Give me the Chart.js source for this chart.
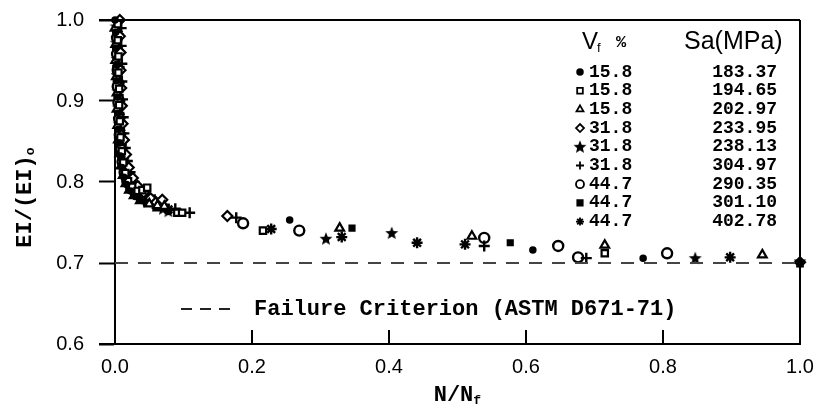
<!DOCTYPE html>
<html>
<head>
<meta charset="utf-8">
<script src="https://cdn.jsdelivr.net/npm/chart.js@4.4.1/dist/chart.umd.min.js"></script>
<style>
html,body{margin:0;padding:0;background:#fff;}
#wrap{width:815px;height:409px;position:relative;}
</style>
</head>
<body>
<div id="wrap"><canvas id="c" width="815" height="409"></canvas></div>
<script>
// ---- data ----
const vfLabels = ['15.8','15.8','15.8','31.8','31.8','31.8','44.7','44.7','44.7'];
const saLabels = ['183.37','194.65','202.97','233.95','238.13','304.97','290.35','301.10','402.78'];
const xTicks = [0, 0.2, 0.4, 0.6, 0.8, 1.0];
const yTicks = [0.6, 0.7, 0.8, 0.9, 1.0];
const failureLevel = 0.70;

const s1x = [0.000,0.001,0.001,0.002,0.002,0.003,0.004,0.005,0.006,0.008,0.010,0.013,0.017,0.023,0.030,0.036,0.255,0.610,0.771,1.000];
const s1y = [1.000,0.985,0.965,0.945,0.925,0.905,0.885,0.865,0.848,0.832,0.818,0.806,0.797,0.789,0.782,0.778,0.753,0.716,0.706,0.700];
const s2x = [0.004,0.004,0.005,0.005,0.006,0.006,0.007,0.008,0.010,0.012,0.015,0.019,0.025,0.033,0.040,0.047,0.091,0.098,0.216,0.715];
const s2y = [0.995,0.975,0.955,0.935,0.915,0.895,0.875,0.855,0.838,0.824,0.811,0.801,0.794,0.789,0.790,0.793,0.762,0.762,0.740,0.712];
const s3x = [0.000,0.001,0.001,0.002,0.003,0.003,0.004,0.005,0.007,0.009,0.012,0.016,0.021,0.028,0.037,0.050,0.062,0.072,0.328,0.521,0.715,0.945];
const s3y = [0.990,0.970,0.950,0.930,0.910,0.890,0.870,0.852,0.835,0.820,0.808,0.798,0.790,0.783,0.777,0.773,0.771,0.770,0.743,0.733,0.722,0.710];
const s4x = [0.007,0.007,0.008,0.008,0.009,0.010,0.011,0.013,0.016,0.020,0.026,0.033,0.042,0.052,0.060,0.069,0.164,1.000];
const s4y = [1.000,0.980,0.960,0.938,0.916,0.894,0.872,0.852,0.834,0.818,0.805,0.795,0.787,0.780,0.775,0.778,0.758,0.701];
const s5x = [0.002,0.002,0.003,0.003,0.004,0.005,0.006,0.007,0.009,0.012,0.016,0.021,0.028,0.037,0.048,0.060,0.070,0.078,0.308,0.404,0.847,1.000];
const s5y = [0.992,0.972,0.952,0.932,0.912,0.892,0.872,0.853,0.836,0.820,0.807,0.797,0.789,0.782,0.776,0.771,0.767,0.764,0.730,0.737,0.706,0.702];
const s6x = [0.009,0.009,0.010,0.010,0.011,0.012,0.013,0.015,0.018,0.022,0.028,0.036,0.046,0.058,0.072,0.088,0.109,0.177,0.539,0.688];
const s6y = [0.990,0.968,0.946,0.924,0.902,0.880,0.860,0.842,0.826,0.812,0.800,0.791,0.784,0.778,0.772,0.767,0.762,0.756,0.721,0.706];
const s7x = [0.003,0.003,0.004,0.004,0.005,0.006,0.007,0.009,0.011,0.014,0.018,0.024,0.031,0.040,0.051,0.187,0.269,0.539,0.647,0.676,0.806];
const s7y = [0.978,0.958,0.938,0.918,0.898,0.878,0.858,0.840,0.825,0.812,0.801,0.792,0.785,0.780,0.778,0.749,0.740,0.731,0.721,0.707,0.712];
const s8x = [0.001,0.001,0.002,0.003,0.004,0.005,0.007,0.009,0.012,0.016,0.021,0.028,0.036,0.046,0.060,0.346,0.577,1.000];
const s8y = [0.960,0.940,0.920,0.900,0.880,0.862,0.845,0.830,0.816,0.804,0.795,0.787,0.780,0.774,0.768,0.743,0.725,0.699];
const s9x = [0.005,0.005,0.006,0.006,0.007,0.008,0.009,0.011,0.014,0.018,0.023,0.030,0.040,0.052,0.065,0.078,0.228,0.331,0.441,0.511,0.898];
const s9y = [0.982,0.962,0.942,0.922,0.900,0.880,0.860,0.842,0.826,0.812,0.801,0.792,0.784,0.777,0.771,0.766,0.742,0.732,0.725,0.723,0.707];

// ---- build ----
function zip(xs, ys){ return xs.map((x,i)=>({x:x, y:ys[i]})); }
const starCanvas = (function(){
  const c = document.createElement('canvas'); c.width = 14; c.height = 14;
  const g = c.getContext('2d'); g.fillStyle = '#000'; g.beginPath();
  for (let i=0;i<10;i++){
    const r = i%2===0 ? 6.8 : 3.0;
    const a = -Math.PI/2 + i*Math.PI/5;
    const px = 7 + r*Math.cos(a), py = 7.4 + r*Math.sin(a);
    if(i===0) g.moveTo(px,py); else g.lineTo(px,py);
  }
  g.closePath(); g.fill(); return c;
})();

const styles = [
  {pointStyle:'circle', radius:3, bg:'#000', bw:1.5},
  {pointStyle:'rect', radius:4.5, bg:'#fff', bw:2.2},
  {pointStyle:'triangle', radius:5, bg:'#fff', bw:2.2},
  {pointStyle:'rectRot', radius:5, bg:'#fff', bw:2.2},
  {pointStyle:starCanvas, radius:7, bg:'#000', bw:1},
  {pointStyle:'cross', radius:5.5, bg:'#fff', bw:2.4},
  {pointStyle:'circle', radius:5, bg:'#fff', bw:2.4},
  {pointStyle:'rect', radius:4, bg:'#000', bw:1.5},
  {pointStyle:'star', radius:5.5, bg:'#fff', bw:2.4}
];
const series = [[s1x,s1y],[s2x,s2y],[s3x,s3y],[s4x,s4y],[s5x,s5y],[s6x,s6y],[s7x,s7y],[s8x,s8y],[s9x,s9y]];

const datasets = series.map((s,i)=>({
  type:'scatter',
  label: vfLabels[i] + ' ' + saLabels[i],
  data: zip(s[0], s[1]),
  pointStyle: styles[i].pointStyle,
  pointRadius: styles[i].radius,
  pointBackgroundColor: styles[i].bg,
  pointBorderColor: '#000',
  pointBorderWidth: styles[i].bw,
  showLine: false,
  clip: false
}));
datasets.unshift({
  type:'line',
  label:'Failure Criterion (ASTM D671-71)',
  data:[{x:xTicks[0], y:failureLevel},{x:xTicks[xTicks.length-1], y:failureLevel}],
  borderColor:'#444',
  borderWidth:2,
  borderDash:[13,10],
  pointRadius:0,
  fill:false
});

const decor = {
  id:'decor',
  afterDraw(chart){
    const ctx = chart.ctx, a = chart.chartArea;
    const xs = chart.scales.x;
    ctx.save();
    ctx.strokeStyle = '#000'; ctx.lineWidth = 2;
    ctx.beginPath();
    ctx.moveTo(a.left - 16, a.top); ctx.lineTo(a.right, a.top);
    ctx.moveTo(a.right, a.top); ctx.lineTo(a.right, a.bottom);
    ctx.moveTo(a.left - 16, a.bottom); ctx.lineTo(a.right, a.bottom);
    ctx.stroke();
    ctx.beginPath();
    xTicks.slice(1, -1).forEach(v=>{
      const px = xs.getPixelForValue(v);
      ctx.moveTo(px, a.bottom); ctx.lineTo(px, a.bottom - 14);
    });
    ctx.stroke();

    ctx.fillStyle = '#000';
    ctx.textBaseline = 'middle';
    ctx.font = 'bold 22px "Liberation Mono"';
    ctx.textAlign = 'left';
    const tx = 'N/N';
    const tw = ctx.measureText(tx).width;
    const cx = (a.left + a.right)/2 - (tw + 8)/2;
    ctx.fillText(tx, cx, 395);
    ctx.font = 'bold 13px "Liberation Mono"';
    ctx.fillText('f', cx + tw, 401);
    ctx.save();
    ctx.translate(25, 197);
    ctx.rotate(-Math.PI/2);
    ctx.font = 'bold 22px "Liberation Mono"';
    const ty = 'EI/(EI)';
    const yw = ctx.measureText(ty).width;
    ctx.fillText(ty, -(yw + 9)/2, 0);
    ctx.font = 'bold 13px "Liberation Mono"';
    ctx.fillText('o', -(yw + 9)/2 + yw, 6);
    ctx.restore();

    ctx.save();
    ctx.strokeStyle = '#222'; ctx.lineWidth = 2; ctx.setLineDash([11, 8]);
    ctx.beginPath(); ctx.moveTo(181, 309); ctx.lineTo(237, 309); ctx.stroke();
    ctx.restore();
    ctx.font = 'bold 22px "Liberation Mono"';
    ctx.fillText(datasets[0].label, 254, 309);

    const lx = a.right - 220;
    ctx.font = '24px "Liberation Sans"';
    ctx.fillText('V', lx + 2, 42);
    ctx.font = '13px "Liberation Sans"';
    ctx.fillText('f', lx + 17, 48);
    ctx.font = 'bold 17px "Liberation Mono"';
    ctx.fillText('%', lx + 36, 43);
    ctx.font = '25px "Liberation Sans"';
    ctx.fillText('Sa(MPa)', lx + 104, 42);
    for (let i=0;i<vfLabels.length;i++){
      const y = 72 + i*18.7;
      const st = styles[i];
      const opts = {pointStyle: st.pointStyle, radius: Math.min(st.radius, 4), borderWidth: st.bw, rotation:0};
      ctx.save();
      ctx.fillStyle = st.bg; ctx.strokeStyle = '#000'; ctx.lineWidth = Math.min(st.bw, 1.8);
      if (Chart.helpers && Chart.helpers.drawPoint) Chart.helpers.drawPoint(ctx, opts, lx, y);
      ctx.restore();
      ctx.fillStyle = '#000';
      ctx.font = 'bold 18px "Liberation Mono"';
      ctx.textAlign = 'left';
      ctx.fillText(vfLabels[i], lx + 9, y);
      ctx.font = 'bold 18px "Liberation Mono"';
      ctx.textAlign = 'right';
      ctx.fillText(saLabels[i], lx + 197, y);
    }
    ctx.restore();
  }
};

new Chart(document.getElementById('c'), {
  data: { datasets },
  options: {
    responsive:false,
    animation:false,
    devicePixelRatio:1,
    layout:{ padding:{ left:0, right:15, top:20, bottom:0 } },
    plugins:{ legend:{display:false}, tooltip:{enabled:false} },
    scales:{
      x:{
        type:'linear', min:xTicks[0], max:xTicks[xTicks.length-1],
        afterBuildTicks(s){ s.ticks = xTicks.map(v=>({value:v})); },
        afterFit(s){ s.height = 65; s.paddingLeft = 0; s.paddingRight = 0; },
        grid:{ display:true, drawOnChartArea:false, drawTicks:false, color:'#000' },
        border:{ display:true, color:'#000', width:2 },
        ticks:{ padding:11, color:'#000', font:{family:'Liberation Sans', size:20}, callback:v=>Number(v).toFixed(1) }
      },
      y:{
        type:'linear', min:yTicks[0], max:yTicks[yTicks.length-1],
        afterBuildTicks(s){ s.ticks = yTicks.map(v=>({value:v})); },
        afterFit(s){ s.width = 115; s.paddingTop = 0; s.paddingBottom = 0; },
        grid:{ display:true, drawOnChartArea:false, drawTicks:true, tickLength:16, tickWidth:2, color:'#000' },
        border:{ display:true, color:'#000', width:2 },
        ticks:{ padding:15, color:'#000', font:{family:'Liberation Sans', size:20}, callback:v=>Number(v).toFixed(1) }
      }
    }
  },
  plugins:[decor]
});
</script>
</body>
</html>
